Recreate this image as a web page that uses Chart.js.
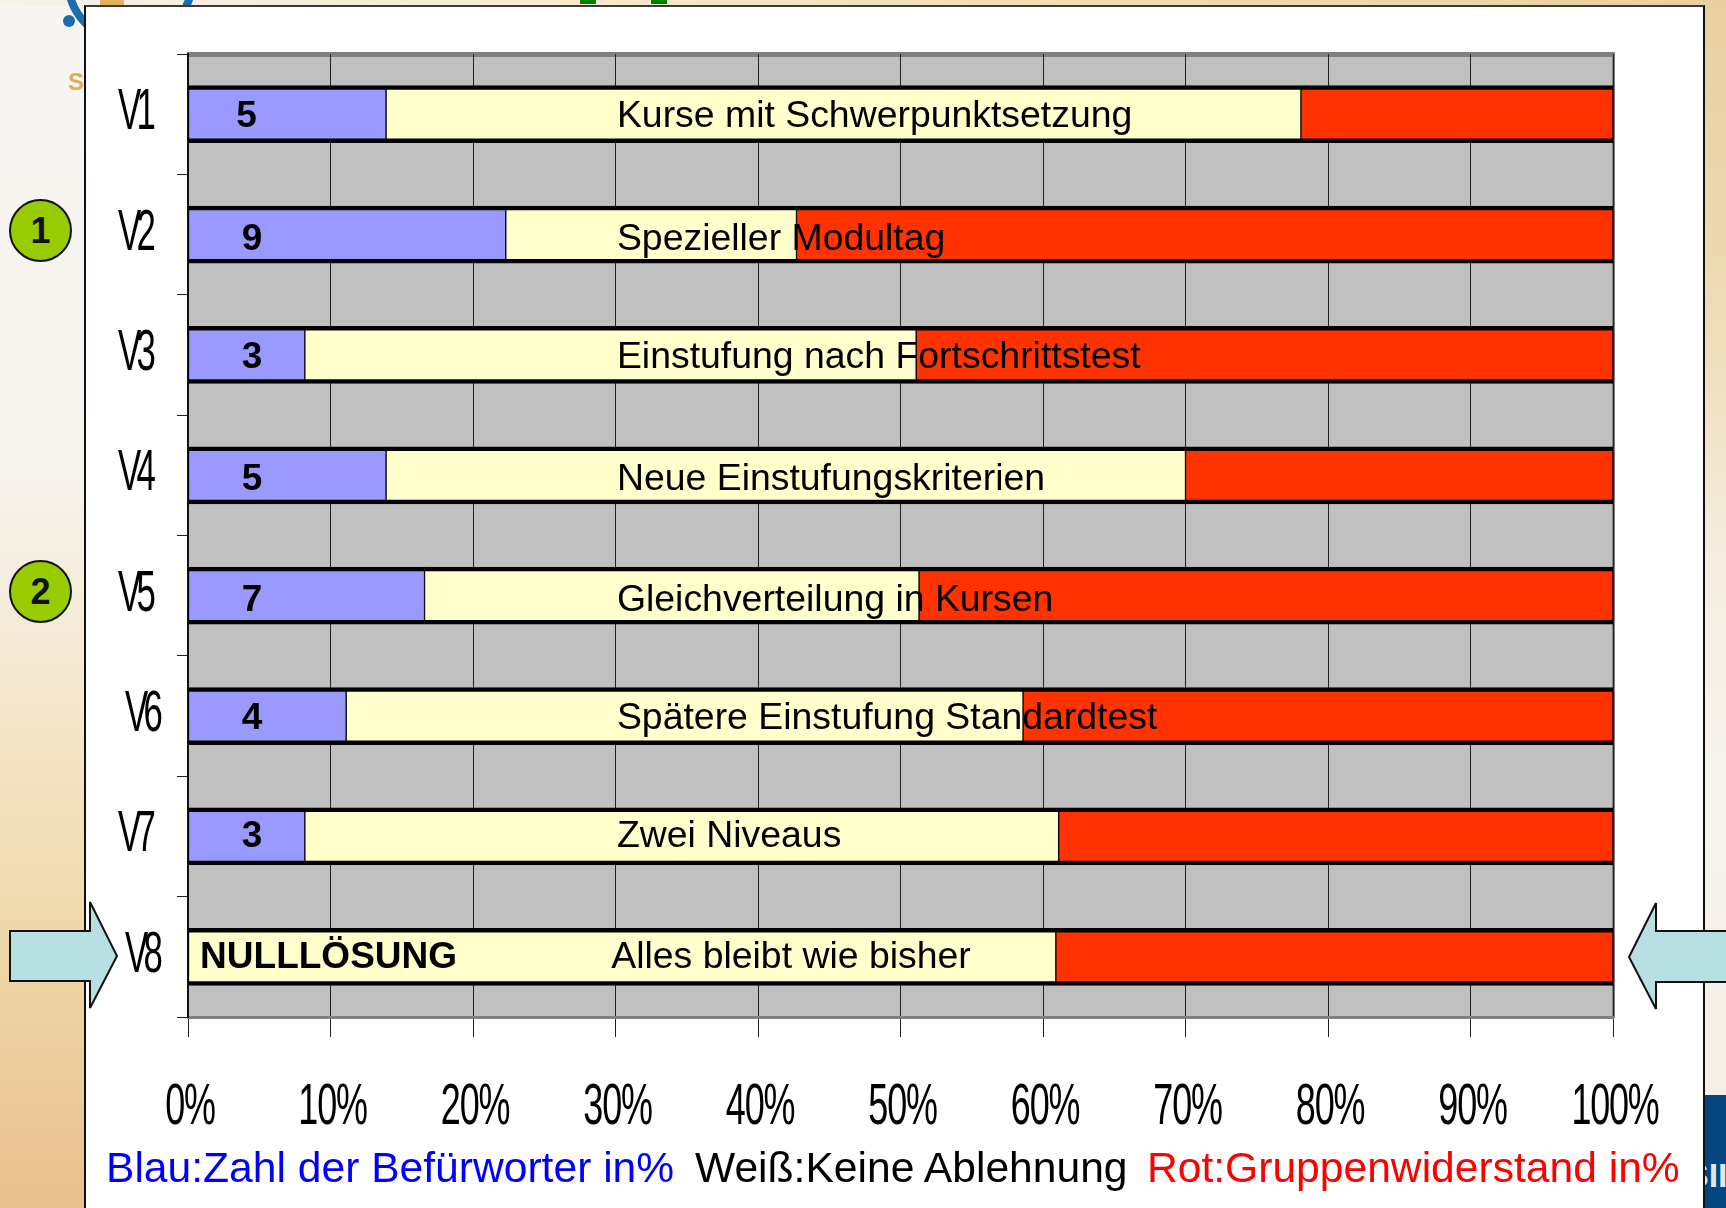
<!DOCTYPE html>
<html lang="de">
<head>
<meta charset="utf-8">
<title>Varianten</title>
<script src="https://cdn.jsdelivr.net/npm/chart.js@4"></script>
<style>
  html, body { margin: 0; padding: 0; background: #f5efe4; }
  body { position: relative; width: 1726px; height: 1208px; overflow: hidden; font-family: "Liberation Sans", Arial, sans-serif; }
  .abs { position: absolute; }
  #strip-left { left: 0; top: 0; width: 84px; height: 1208px; background: linear-gradient(#f7f5f2 0, #f6f2ec 480px, #f4e6c9 720px, #eed9ab 920px, #e8c18e 1208px); }
  #strip-right { left: 1704px; top: 0; width: 22px; height: 1208px; background: linear-gradient(#e8cf9f 0, #ecdab2 280px, #f4ede0 560px, #f6f3ee 800px, #f4efe6 1090px); }
  #strip-top { left: 0; top: 0; width: 1726px; height: 6px; background: linear-gradient(90deg, #f6f2ea 0, #f5e8cc 600px, #efdcb2 1100px, #e8cf9f 1726px); }
  #blue-box { left: 1704px; top: 1095px; width: 22px; height: 113px; background: #03457f; overflow: hidden; color: #dfe8f0; font: bold 34px/34px "Liberation Sans"; }
  #blue-box span { position: absolute; left: -18px; top: 63px; }
  #panel { left: 84px; top: 5px; width: 1617px; height: 1210px; background: #fff; border: 2px solid #111; border-top-color: #3c3a34; }
  .bullet { left: 9px; width: 59px; height: 59px; border: 2px solid #111; border-radius: 50%; background: #99cc00; font: bold 36px/59px "Liberation Sans"; text-align: center; color: #111; }
  #chart { left: 0; top: 0; }
  #legend-line span { position: absolute; top: 1142px; font-size: 42.6px; line-height: 50px; white-space: nowrap; }
</style>
</head>
<body>
<div class="abs" id="strip-left"></div>
<div class="abs" id="strip-right"></div>
<div class="abs" id="strip-top"></div>
<div class="abs" id="blue-box"><span>SII</span></div>
<svg class="abs" style="left:0;top:0" width="300" height="110">
  <circle cx="130" cy="-20" r="62" fill="none" stroke="#1c6db0" stroke-width="8"></circle>
  <circle cx="69" cy="21" r="6" fill="#1c6db0"></circle>
  <rect x="100" y="0" width="24" height="5" fill="#e0b45c"></rect>
  <text x="68" y="90" font-family="Liberation Sans" font-weight="bold" font-size="24" fill="#d9b25a">S</text>
</svg>
<div class="abs" id="panel"></div>
<div class="abs" style="left:580px;top:0;width:16px;height:4px;background:#008000"></div>
<div class="abs" style="left:651px;top:0;width:16px;height:4px;background:#008000"></div>

<canvas class="abs" id="chart" width="1726" height="1208"></canvas>

<div class="abs bullet" style="top:199px">1</div>
<div class="abs bullet" style="top:560px">2</div>

<svg class="abs" style="left:0;top:890px" width="1726" height="130">
  <polygon points="10,41 90,41 90,12 117,66 90,118 90,91 10,91" fill="#b8dfe2" stroke="#111" stroke-width="2"></polygon>
  <polygon points="1740,41 1656,41 1656,13 1629,67 1656,119 1656,92 1740,92" fill="#b8dfe2" stroke="#111" stroke-width="2"></polygon>
</svg>

<div id="legend-line">
  <span style="left:106px;color:#0000ff">Blau:Zahl der Befürworter in%</span>
  <span style="left:695px;color:#000">Weiß:Keine Ablehnung</span>
  <span style="left:1147px;color:#ff0000">Rot:Gruppenwiderstand in%</span>
</div>

<script>
var variants = ["V1", "V2", "V3", "V4", "V5", "V6", "V7", "V8"];
var percentTicks = ["0%", "10%", "20%", "30%", "40%", "50%", "60%", "70%", "80%", "90%", "100%"];

var supporters = [13.9, 22.3, 8.2, 13.9, 16.6, 11.1, 8.2, 0];
var noRejection = [64.2, 20.4, 42.9, 56.1, 34.7, 47.5, 52.9, 60.9];
var resistance = [21.9, 57.3, 48.9, 30, 48.7, 41.4, 38.9, 39.1];

var countLabels = ["5", "9", "3", "5", "7", "4", "3", ""];
var barNames = [
  "Kurse mit Schwerpunktsetzung",
  "Spezieller Modultag",
  "Einstufung nach Fortschrittstest",
  "Neue Einstufungskriterien",
  "Gleichverteilung in Kursen",
  "Spätere Einstufung Standardtest",
  "Zwei Niveaus",
  "Alles bleibt wie bisher",
];

var barBorder = { top: 4.5, bottom: 4.5, left: 1, right: 1 };
// the text boxes sit a little off the bar centres in the original
var rowNudge = [0, 2, 0, 2, 2, 0, -2, -2];

// squeezed axis text, the original has it stretched tall and narrow
function drawSqueezed(ctx, text, x, y, align, squeeze, spacing) {
  ctx.save();
  ctx.translate(x, y);
  ctx.scale(squeeze, 1);
  ctx.font = '58px "Liberation Sans"';
  ctx.letterSpacing = spacing;
  ctx.textAlign = align;
  ctx.textBaseline = "alphabetic";
  ctx.fillStyle = "#000";
  ctx.fillText(text, 0, 0);
  ctx.restore();
}

var slidePlugin = {
  id: "slide",
  beforeDraw: function (chart) {
    var a = chart.chartArea;
    chart.ctx.fillStyle = "#c0c0c0";
    chart.ctx.fillRect(a.left, a.top, a.right - a.left, a.bottom - a.top);
    chart.ctx.fillStyle = "#808080";
    chart.ctx.fillRect(a.left - 1, a.top - 2, a.right - a.left + 2, 5);
    chart.ctx.fillRect(a.right - 1, a.top - 2, 3, a.bottom - a.top + 3);
  },
  afterDraw: function (chart) {
    var ctx = chart.ctx;
    var x = chart.scales.x;
    var y = chart.scales.y;

    x.ticks.forEach(function (t, i) {
      drawSqueezed(ctx, t.label, x.getPixelForTick(i) + 2, 1124, "center", 0.62, "-2px");
    });
    y.ticks.forEach(function (t, i) {
      var left = i === 5 || i === 7 ? 125 : 118;
      drawSqueezed(ctx, t.label, left, y.getPixelForTick(i) + 15, "left", 0.6, "-8px");
    });

    ctx.textBaseline = "alphabetic";
    ctx.fillStyle = "#000";
    variants.forEach(function (v, i) {
      var cy = y.getPixelForValue(i) + rowNudge[i];
      ctx.font = '37.4px "Liberation Sans"';
      ctx.textAlign = "left";
      ctx.fillText(barNames[i], x.getPixelForValue(i === 7 ? 29.7 : 30.1), cy + 13);
      ctx.font = 'bold 37px "Liberation Sans"';
      ctx.textAlign = "center";
      ctx.fillText(countLabels[i], x.getPixelForValue(i === 0 ? 4.1 : 4.5), cy + 13);
    });
    ctx.textAlign = "left";
    ctx.fillText("NULLLÖSUNG", x.getPixelForValue(0.85), y.getPixelForValue(7) + 11);
  },
};

new Chart(document.getElementById("chart"), {
  type: "bar",
  data: {
    labels: variants,
    datasets: [
      { data: supporters, backgroundColor: "#9999ff", borderColor: "#000", borderWidth: barBorder, borderSkipped: false },
      { data: noRejection, backgroundColor: "#ffffcc", borderColor: "#000", borderWidth: barBorder, borderSkipped: false },
      { data: resistance, backgroundColor: "#ff3300", borderColor: "#000", borderWidth: barBorder, borderSkipped: false },
    ],
  },
  options: {
    indexAxis: "y",
    responsive: false,
    animation: false,
    barThickness: 57,
    layout: { padding: { top: 54, right: 113, left: 0, bottom: 0 } },
    plugins: { legend: { display: false }, tooltip: { enabled: false } },
    scales: {
      x: {
        stacked: true,
        min: 0,
        max: 100,
        ticks: {
          stepSize: 10,
          display: false,
          callback: function (v, i) {
            return percentTicks[i];
          },
        },
        grid: { color: "#222", lineWidth: 1, tickLength: 20, tickColor: "#222" },
        border: { color: "#808080", width: 3 },
        afterFit: function (s) {
          s.height = 191;
        },
      },
      y: {
        stacked: true,
        ticks: { display: false },
        grid: { drawOnChartArea: false, tickLength: 11, tickColor: "#222", lineWidth: 1 },
        border: { color: "#111", width: 2 },
        afterFit: function (s) {
          s.width = 188;
        },
      },
    },
  },
  plugins: [slidePlugin],
});
</script>
</body>
</html>
